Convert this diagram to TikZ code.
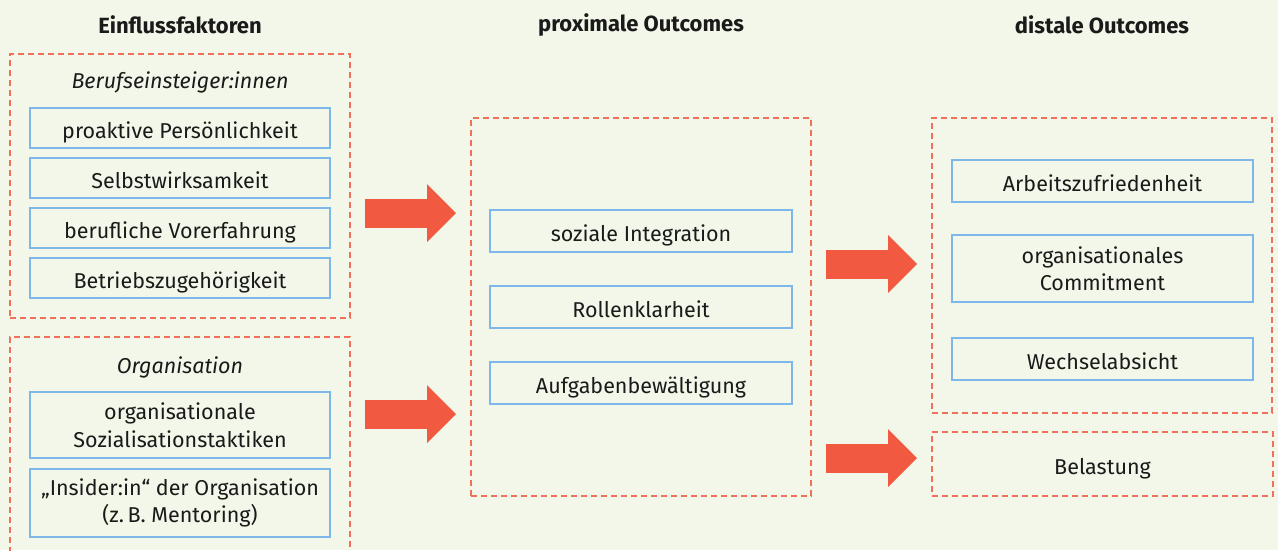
\documentclass[tikz,border=0pt]{standalone}
\usepackage{fontspec}
\setmainfont{Fira Sans}
\usepackage{xcolor}
\usetikzlibrary{positioning,arrows.meta}

\definecolor{bgcol}{HTML}{F3F7E9}
\definecolor{grpred}{HTML}{F0705A}
\definecolor{boxblue}{HTML}{7DB8E8}
\definecolor{arrred}{HTML}{F15A40}
\definecolor{txt}{HTML}{1A1A1A}

\begin{document}
\begin{tikzpicture}[
    x=1pt, y=1pt,
    every node/.style={text=txt, font=\fontsize{21.5}{27.5}\selectfont},
    grp/.style={draw=grpred, dash pattern=on 6pt off 4pt, line width=1.1pt, minimum width=#1, inner sep=0pt},
    item/.style={draw=boxblue, line width=1.1pt, minimum width=#1, align=center, inner sep=0pt},
    oneline/.style={text height=20.5pt, text depth=0pt},
    head/.style={font=\fontsize{22}{26}\selectfont\bfseries},
    lbl/.style={font=\fontsize{21.5}{26}\selectfont\itshape},
    bigarr/.style={arrred, line width=29pt, -{Triangle[length=29pt, width=58pt, line width=0pt]}},
]
\fill[bgcol] (0,0) rectangle (1278,-550);
\useasboundingbox (0,0) rectangle (1278,-550);

% Headings
\node[head] (h1) at (180,-25) {Einflussfaktoren};
\node[head] (h2) at (641,-25) {proximale Outcomes};
\node[head] (h3) at (1102,-25) {distale Outcomes};

% Einflussfaktoren
\node[grp=340pt, minimum height=264pt] (bei) at (180,-186) {};
\node[lbl] (beit) at (180,-82) {Berufseinsteiger:innen};
\node[item=300pt, oneline, minimum height=40pt] (pro) at (180,-128) {proaktive Persönlichkeit};
\node[item=300pt, oneline, minimum height=40pt] (sel) at (180,-178) {Selbstwirksamkeit};
\node[item=300pt, oneline, minimum height=40pt] (vor) at (180,-228) {berufliche Vorerfahrung};
\node[item=300pt, oneline, minimum height=40pt] (bet) at (180,-278) {Betriebszugehörigkeit};

\node[grp=340pt, minimum height=240pt] (org) at (180,-457) {};
\node[lbl] (orgt) at (180,-367) {Organisation};
\node[item=300pt, minimum height=66pt] (tak) at (180,-425) {organisationale\\Sozialisationstaktiken};
\node[item=300pt, minimum height=68pt] (ins) at (180,-503) {„Insider:in“ der Organisation\\(z.\,B. Mentoring)};

% proximale Outcomes
\node[grp=340pt, minimum height=378pt] (prox) at (641,-307) {};
\node[item=302pt, oneline, minimum height=42pt] (soz) at (641,-231) {soziale Integration};
\node[item=302pt, oneline, minimum height=42pt] (rol) at (641,-307) {Rollenklarheit};
\node[item=302pt, oneline, minimum height=42pt] (auf) at (641,-383) {Aufgabenbewältigung};

% distale Outcomes
\node[grp=340pt, minimum height=295pt] (dist) at (1102,-265.5) {};
\node[item=301pt, oneline, minimum height=42pt] (arb) at (1102.5,-181) {Arbeitszufriedenheit};
\node[item=301pt, minimum height=67pt] (com) at (1102.5,-268.5) {organisationales\\Commitment};
\node[item=301pt, oneline, minimum height=42pt] (wec) at (1102.5,-359) {Wechselabsicht};
\node[grp=341pt, oneline, minimum height=64pt] (bel) at (1102.5,-464) {Belastung};

% Pfeile
\coordinate (a1s) at (365,-213);  \coordinate (a1e) at (456,-213);
\coordinate (a2s) at (365,-414);  \coordinate (a2e) at (456,-414);
\coordinate (a3s) at (826,-264);  \coordinate (a3e) at (917,-264);
\coordinate (a4s) at (826,-458);  \coordinate (a4e) at (917,-458);
\draw[bigarr] (a1s) -- (a1e);
\draw[bigarr] (a2s) -- (a2e);
\draw[bigarr] (a3s) -- (a3e);
\draw[bigarr] (a4s) -- (a4e);
\end{tikzpicture}
\end{document}
